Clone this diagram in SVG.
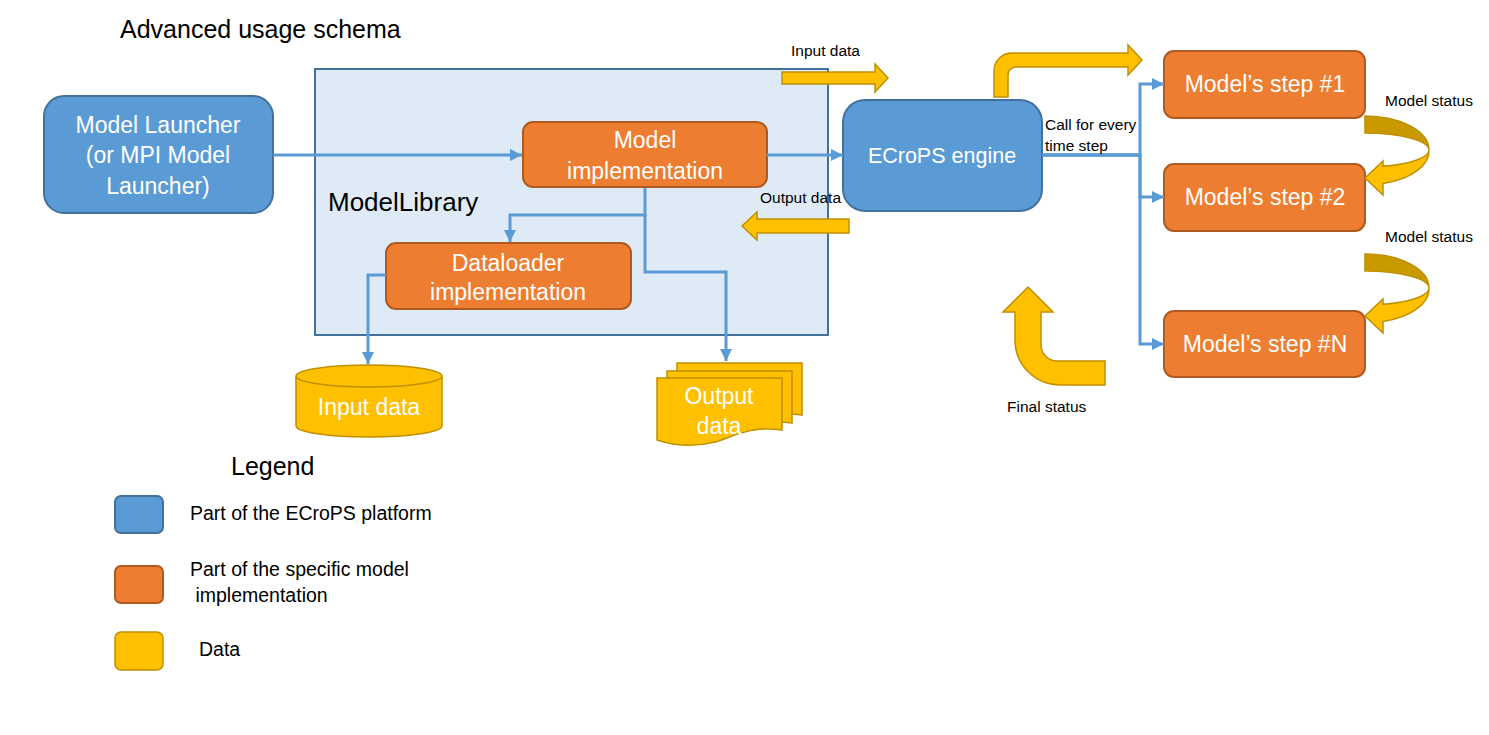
<svg xmlns="http://www.w3.org/2000/svg" width="1489" height="735" viewBox="0 0 1489 735">
<style>
text{font-family:"Liberation Sans",Arial,sans-serif}
.blue{fill:#5B9BD5;stroke:#41719C;stroke-width:2}
.orange{fill:#ED7D31;stroke:#AE5A21;stroke-width:2}
.yellow{fill:#FFC000;stroke:#BF9000;stroke-width:1.5}
.dark{fill:#C99A00;stroke:#BF9000;stroke-width:1.5}
.wt{fill:#FFFFFF;font-size:23px;text-anchor:middle}
.lbl{fill:#000000;font-size:15.5px}
.leg{fill:#000000;font-size:19.5px}
.conn{fill:none;stroke:#5B9BD5;stroke-width:3}
</style>
<defs>
<marker id="ah" markerUnits="userSpaceOnUse" markerWidth="12" markerHeight="12" refX="10" refY="5" orient="auto" viewBox="0 0 10 10">
<path d="M0,0 L10,5 L0,10 z" fill="#5B9BD5"/>
</marker>
</defs>
<rect width="1489" height="735" fill="#FFFFFF"/>
<text x="120" y="38" font-size="25" fill="#000">Advanced usage schema</text>

<g id="modelLibrary">
<rect x="315" y="69" width="513" height="266" fill="#DEEBF7" stroke="#41719C" stroke-width="2"/>
<text x="328" y="211" font-size="26" fill="#000">ModelLibrary</text>
</g>

<g id="modelLauncher">
<rect class="blue" x="44" y="96" width="229" height="117" rx="20"/>
<text class="wt" x="158" y="133">Model Launcher</text>
<text class="wt" x="158" y="163">(or MPI Model</text>
<text class="wt" x="158" y="194">Launcher)</text>
</g>

<g id="modelImplementation">
<rect class="orange" x="523" y="122" width="244" height="65" rx="10"/>
<text class="wt" x="645" y="148">Model</text>
<text class="wt" x="645" y="179">implementation</text>
</g>

<g id="dataloader">
<rect class="orange" x="386" y="243" width="245" height="66" rx="10"/>
<text class="wt" x="508" y="271">Dataloader</text>
<text class="wt" x="508" y="300">implementation</text>
</g>

<g id="ecropsEngine">
<rect class="blue" x="843" y="100" width="199" height="111" rx="22"/>
<text class="wt" x="942" y="163" style="font-size:21.5px">ECroPS engine</text>
</g>

<g id="step1">
<rect class="orange" x="1164" y="51" width="201" height="67" rx="10"/>
<text class="wt" x="1265" y="92">Model’s step #1</text>
</g>
<g id="step2">
<rect class="orange" x="1164" y="164" width="201" height="67" rx="10"/>
<text class="wt" x="1265" y="205">Model’s step #2</text>
</g>
<g id="stepN">
<rect class="orange" x="1164" y="311" width="201" height="66" rx="10"/>
<text class="wt" x="1265" y="352">Model’s step #N</text>
</g>

<g id="inputDataStore">
<path class="yellow" d="M296,376 A73,11 0 0 1 442,376 V426 A73,11 0 0 1 296,426 Z"/>
<path class="yellow" d="M296,376 A73,11 0 0 0 442,376" fill="none"/>
<text class="wt" x="369" y="415">Input data</text>
</g>

<g id="outputDataDocs">
<path class="yellow" transform="translate(20,-15)" d="M657,378 H782 V430 C750,425 730,438 715,442 C695,447 675,446 657,440 Z"/>
<path class="yellow" transform="translate(10,-7)" d="M657,378 H782 V430 C750,425 730,438 715,442 C695,447 675,446 657,440 Z"/>
<path class="yellow" d="M657,378 H782 V430 C750,425 730,438 715,442 C695,447 675,446 657,440 Z"/>
<text class="wt" x="719" y="404">Output</text>
<text class="wt" x="719" y="434">data</text>
</g>

<g id="connectors">
<path class="conn" d="M273,155 H522" marker-end="url(#ah)"/>
<path class="conn" d="M767,155 H843" marker-end="url(#ah)"/>
<path class="conn" d="M645,188 V215 H510 V242" marker-end="url(#ah)"/>
<path class="conn" d="M645,215 V272 H726 V361" marker-end="url(#ah)"/>
<path class="conn" d="M386,275 H368 V364" marker-end="url(#ah)"/>
<path class="conn" d="M1042,155 H1140 V84 H1164" marker-end="url(#ah)"/>
<path class="conn" d="M1042,155 H1140 V197 H1164" marker-end="url(#ah)"/>
<path class="conn" d="M1042,155 H1140 V344 H1164" marker-end="url(#ah)"/>
</g>

<g id="dataArrows">
<path class="yellow" d="M782,72 H875 V64 L888,78 L875,92 V84 H782 Z"/>
<path class="yellow" d="M849,219 H757 V212 L742,226 L757,240 V233 H849 Z"/>
<path class="yellow" d="M994,97 V71 A18,18 0 0 1 1012,53 H1128 V45 L1142,60 L1128,75 V67 H1016 A8,8 0 0 0 1008,75 V97 Z"/>
<path class="yellow" d="M1028,287 L1053,312 L1041,312 L1041,345 A16,16 0 0 0 1057,361 L1105,361 L1105,385 L1060,385 A45,45 0 0 1 1015,340 L1015,312 L1003,312 Z"/>
<g id="statusArrow1">
<path class="dark" d="M1365,116 A64,34 0 0 1 1429,150 A64,17 0 0 0 1365,133 Z"/>
<path class="yellow" d="M1429,150 A64,34 0 0 1 1383,183.6 L1383,195 L1365,178 L1383,161 L1383,166.3 A64,17 0 0 0 1429,150 Z"/>
</g>
<g id="statusArrow2" transform="translate(0,138)">
<path class="dark" d="M1365,116 A64,34 0 0 1 1429,150 A64,17 0 0 0 1365,133 Z"/>
<path class="yellow" d="M1429,150 A64,34 0 0 1 1383,183.6 L1383,195 L1365,178 L1383,161 L1383,166.3 A64,17 0 0 0 1429,150 Z"/>
</g>
</g>

<g id="labels">
<text class="lbl" x="791" y="56">Input data</text>
<text class="lbl" x="760" y="203">Output data</text>
<text class="lbl" x="1045" y="130">Call for every</text>
<text class="lbl" x="1045" y="151">time step</text>
<text class="lbl" x="1385" y="106">Model status</text>
<text class="lbl" x="1385" y="242">Model status</text>
<text class="lbl" x="1007" y="412">Final status</text>
</g>

<g id="legend">
<text x="231" y="475" font-size="25" fill="#000">Legend</text>
<rect class="blue" x="115" y="496" width="48" height="37" rx="6"/>
<rect class="orange" x="115" y="566" width="48" height="37" rx="6"/>
<rect class="yellow" x="115" y="632" width="48" height="38" rx="6" stroke-width="2"/>
<text class="leg" x="190" y="520">Part of the ECroPS platform</text>
<text class="leg" x="190" y="576">Part of the specific model</text>
<text class="leg" x="190" y="602" xml:space="preserve"> implementation</text>
<text class="leg" x="199" y="656">Data</text>
</g>
</svg>
